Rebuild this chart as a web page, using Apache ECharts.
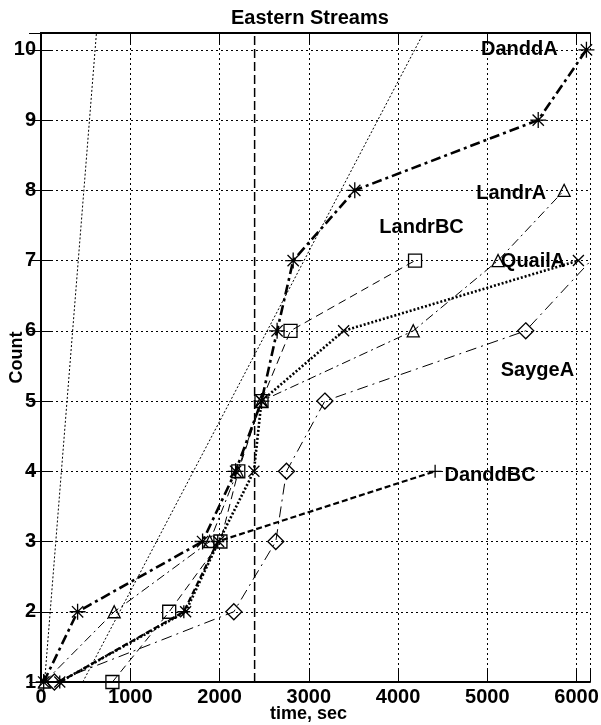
<!DOCTYPE html>
<html>
<head>
<meta charset="utf-8">
<script src="https://cdn.jsdelivr.net/npm/echarts@6/dist/echarts.min.js"></script>
<style>html,body{margin:0;padding:0;background:#fff}#c{width:601px;height:725px}</style>
</head>
<body>
<div id="c"></div>
<script>
// ---- data (time in seconds, cumulative count) ----
const danddA_t  = [30, 410, 1810, 2180, 2470, 2645, 2825, 3515, 5570, 6110];
const danddA_n  = [1, 2, 3, 4, 5, 6, 7, 8, 9, 10];
const landrBC_t = [800, 1436, 2010, 2210, 2470, 2795, 4190];
const landrBC_n = [1, 2, 3, 4, 5, 6, 7];
const landrA_t  = [40, 820, 1890, 2200, 2470, 4170, 5120, 5860];
const landrA_n  = [1, 2, 3, 4, 5, 6, 7, 8];
const quailA_t  = [210, 1620, 1990, 2385, 2470, 3390, 6020];
const quailA_n  = [1, 2, 3, 4, 5, 6, 7];
const saygeA_t  = [150, 2160, 2630, 2750, 3180, 5430, 6160];
const saygeA_n  = [1, 2, 3, 4, 5, 6, 7];
const danddBC_t = [210, 1600, 1980, 4415];
const danddBC_n = [1, 2, 3, 4];
// reference rate lines
const refFast_t = [40, 621];
const refFast_n = [1, 10.24];
const refSlow_t = [468, 4285];
const refSlow_n = [1, 10.24];
// vertical marker time
const markTime = 2393;
// annotation labels
const labelNames = ['DanddA', 'LandrA', 'LandrBC', 'QuailA', 'SaygeA', 'DanddBC'];
const labelTimes = [5358, 5268, 4263, 5512, 5561, 5030];
const labelCounts = [10, 7.96, 7.47, 6.98, 5.44, 3.94];
// ticks
const xTickLabels = ['0', '1000', '2000', '3000', '4000', '5000', '6000'];
const yTickLabels = ['1', '2', '3', '4', '5', '6', '7', '8', '9', '10'];

const FONT = 'Liberation Sans, Arial, Helvetica, sans-serif';
const zip = (a, b) => a.map((v, i) => [v, b[i]]);

const SYM = {
  asterisk: 'path://M0,-10L0,10M-10,0L10,0M-7.07,-7.07L7.07,7.07M-7.07,7.07L7.07,-7.07',
  cross: 'path://M-10,-10L10,10M-10,10L10,-10',
  plus: 'path://M0,-10L0,10M-10,0L10,0'
};

function mk(name, t, n, symbol, size, width, dash) {
  return {
    name, type: 'line', data: zip(t, n), symbol, symbolSize: size,
    symbolKeepAspect: true,
    lineStyle: { color: '#000', width, type: dash },
    itemStyle: { color: 'transparent', borderColor: '#000', borderWidth: 1.3 },
    emphasis: { disabled: true }, animation: false, z: 3
  };
}

const xAxisBase = { type: 'value', min: 0, max: 6150, interval: 1000 };
const yAxisBase = { type: 'value', min: 1, max: 10.24, interval: 1 };
const tickStyle = { show: true, inside: true, length: 12, lineStyle: { color: '#000', width: 1 } };
const lineAx = { show: true, lineStyle: { color: '#000', width: 2 } };

const option = {
  backgroundColor: '#fff',
  animation: false,
  title: {
    text: 'Eastern Streams', left: 226, top: 3,
    textStyle: { fontFamily: FONT, fontSize: 20, fontWeight: 'bold', color: '#000' }
  },
  grid: { left: 41, right: 11, top: 33, bottom: 43, containLabel: false, outerBoundsMode: 'none' },
  xAxis: [
    Object.assign({}, xAxisBase, {
      position: 'bottom',
      name: 'time, sec', nameLocation: 'middle', nameGap: 23, nameMoveOverlap: false,
      nameTextStyle: { fontFamily: FONT, fontSize: 18, fontWeight: 'bold', color: '#000', padding: [0, 14, 0, 0] },
      axisLine: lineAx, axisTick: tickStyle,
      axisLabel: {
        fontFamily: FONT, fontSize: 20, fontWeight: 'bold', color: '#000', margin: 5,
        formatter: v => xTickLabels.includes(String(v)) ? String(v) : ''
      },
      splitLine: { show: true, lineStyle: { color: '#000', width: 1, type: [2, 3] } }
    }),
    Object.assign({}, xAxisBase, {
      position: 'top', axisLine: lineAx, axisTick: tickStyle,
      axisLabel: { show: false }, splitLine: { show: false }
    })
  ],
  yAxis: [
    Object.assign({}, yAxisBase, {
      position: 'left',
      name: 'Count', nameLocation: 'middle', nameGap: 15, nameRotate: 90, nameMoveOverlap: false,
      nameTextStyle: { fontFamily: FONT, fontSize: 18, fontWeight: 'bold', color: '#000' },
      axisLine: lineAx, axisTick: tickStyle,
      axisLabel: {
        fontFamily: FONT, fontSize: 20, fontWeight: 'bold', color: '#000', margin: 5,
        formatter: v => yTickLabels.includes(String(v)) ? String(v) : ''
      },
      splitLine: { show: true, lineStyle: { color: '#000', width: 1, type: [2, 3] } }
    }),
    Object.assign({}, yAxisBase, {
      position: 'right', axisLine: lineAx, axisTick: tickStyle,
      axisLabel: { show: false }, splitLine: { show: false }
    })
  ],
  series: [
    {
      name: 'refFast', type: 'line', data: zip(refFast_t, refFast_n), symbol: 'none',
      lineStyle: { color: '#000', width: 1, type: [2, 2] }, z: 2, silent: true
    },
    {
      name: 'refSlow', type: 'line', data: zip(refSlow_t, refSlow_n), symbol: 'none',
      lineStyle: { color: '#000', width: 1, type: [2, 2] }, z: 2, silent: true
    },
    {
      name: 'mark', type: 'line', data: [[markTime, 1], [markTime, 10.24]], symbol: 'none',
      lineStyle: { color: '#000', width: 1.5, type: [9, 4] }, z: 2, silent: true
    },
    mk('DanddA', danddA_t, danddA_n, SYM.asterisk, 16, 2.6, [10, 4, 3, 4]),
    mk('LandrBC', landrBC_t, landrBC_n, 'rect', 13, 1, [8, 5]),
    mk('LandrA', landrA_t, landrA_n, 'triangle', 12, 1, [9, 4, 2, 4]),
    mk('QuailA', quailA_t, quailA_n, SYM.cross, 11, 2.6, [2, 2]),
    mk('SaygeA', saygeA_t, saygeA_n, 'diamond', 16, 1, [11, 5, 2, 5]),
    mk('DanddBC', danddBC_t, danddBC_n, SYM.plus, 13, 2.2, [6, 3]),
    {
      name: 'labels', type: 'scatter', symbolSize: 1, z: 5, silent: true,
      itemStyle: { color: 'transparent' },
      data: labelNames.map((nm, i) => ({ name: nm, value: [labelTimes[i], labelCounts[i]] })),
      label: {
        show: true, position: 'inside', formatter: p => p.name,
        fontFamily: FONT, fontSize: 20, fontWeight: 'bold', color: '#000',
        textBorderWidth: 0, opacity: 1
      }
    }
  ]
};

const chart = echarts.init(document.getElementById('c'), null, { renderer: 'canvas' });
chart.setOption(option);
</script>
</body>
</html>
